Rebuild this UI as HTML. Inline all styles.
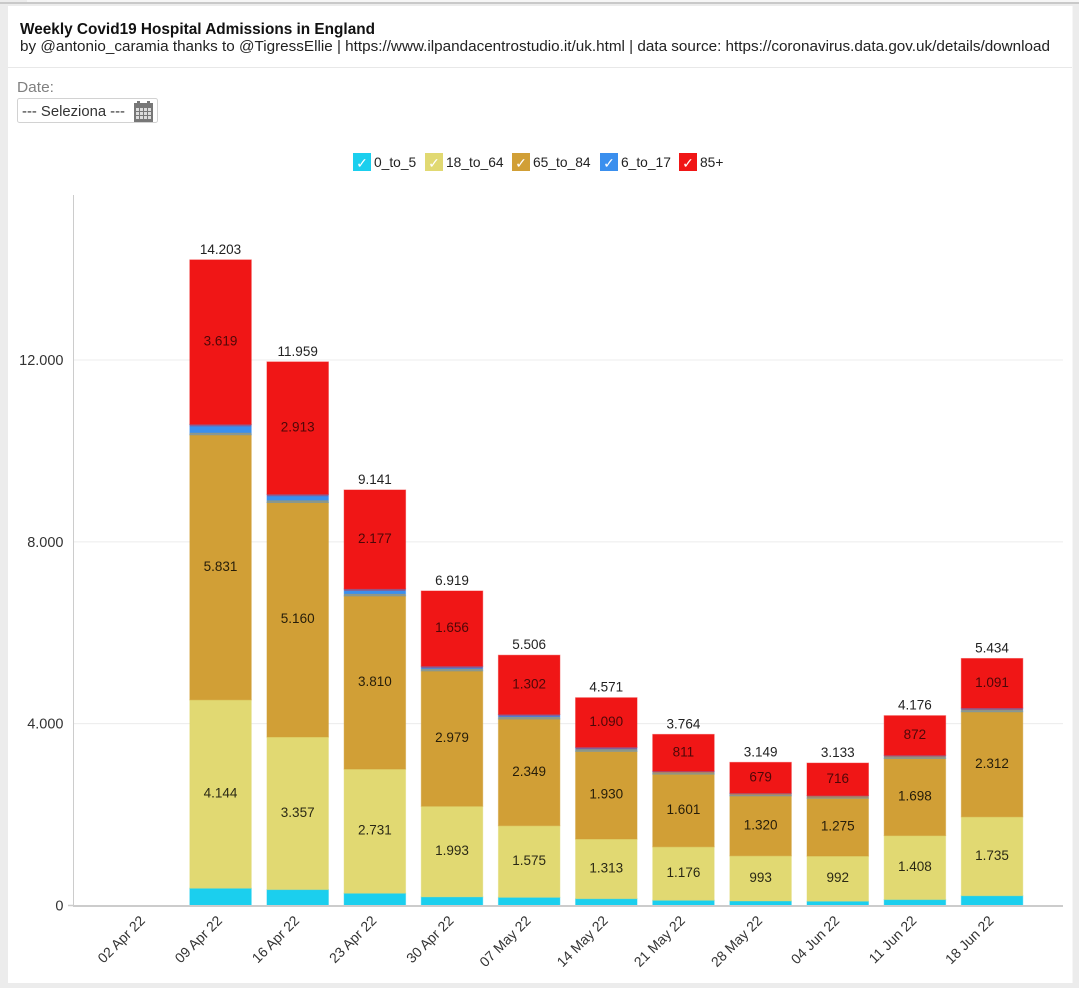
<!DOCTYPE html>
<html lang="it">
<head>
<meta charset="utf-8">
<title>Weekly Covid19 Hospital Admissions in England</title>
<style>
html,body{margin:0;padding:0;background:#fff;width:1079px;height:988px;overflow:hidden}
svg{display:block;font-family:"Liberation Sans",sans-serif}
text{fill:#222}
</style>
</head>
<body>
<svg id="chart" width="1079" height="988" viewBox="0 0 1079 988" xmlns="http://www.w3.org/2000/svg">
  <rect x="0" y="0" width="1079" height="988" fill="#ececec"/>
  <rect x="27" y="0" width="1052" height="2" fill="#f6f6f6"/>
  <rect x="0" y="2" width="1079" height="2" fill="#c9c9c9"/>
  <rect x="8" y="6" width="1064.5" height="977" fill="#ffffff"/>
  <g>
    <text x="20" y="34" font-size="16" font-weight="bold" fill="#111" textLength="355" lengthAdjust="spacingAndGlyphs" style="fill:#111">Weekly Covid19 Hospital Admissions in England</text>
    <text x="20" y="51" font-size="14.5" textLength="1030" lengthAdjust="spacingAndGlyphs" style="fill:#222">by @antonio_caramia thanks to @TigressEllie | https://www.ilpandacentrostudio.it/uk.html | data source: https://coronavirus.data.gov.uk/details/download</text>
    <line x1="8" y1="67.5" x2="1072" y2="67.5" stroke="#e8e8e8"/>
  </g>
  <g>
    <text x="17" y="92" font-size="14.5" textLength="37" lengthAdjust="spacingAndGlyphs" style="fill:#808080">Date:</text>
    <g>
      <rect x="17.5" y="98.5" width="140" height="24" rx="2" fill="#fff" stroke="#d2d2d2"/>
      <text x="22" y="116" font-size="14.5" textLength="103" lengthAdjust="spacingAndGlyphs" style="fill:#333">--- Seleziona ---</text>
      <g>
        <rect x="134" y="103" width="19" height="19" fill="#777"/>
        <rect x="137" y="101" width="3" height="5" fill="#777"/>
        <rect x="147" y="101" width="3" height="5" fill="#777"/>
        <path d="M136 108h3v3h-3zM140 108h3v3h-3zM144 108h3v3h-3zM148 108h3v3h-3zM136 112h3v3h-3zM140 112h3v3h-3zM144 112h3v3h-3zM148 112h3v3h-3zM136 116h3v3h-3zM140 116h3v3h-3zM144 116h3v3h-3zM148 116h3v3h-3z" fill="#dcdcdc"/>
      </g>
    </g>
  </g>
  <g id="legend"></g>
  <g id="grid"></g>
  <g id="bars"></g>
  <g id="axes"></g>
  <g id="labels"></g>
</svg>
<script>
const categories = ["02 Apr 22","09 Apr 22","16 Apr 22","23 Apr 22","30 Apr 22","07 May 22","14 May 22","21 May 22","28 May 22","04 Jun 22","11 Jun 22","18 Jun 22"];
const seriesNames = ["0_to_5","18_to_64","65_to_84","6_to_17","85+"];
const seriesColors = ["#1bcfee","#e1d972","#d19f36","#3a8fee","#f01616"];
const age0to5 = [0,380,350,270,190,180,150,115,100,95,130,215];
const age18to64 = [0,4144,3357,2731,1993,1575,1313,1176,993,992,1408,1735];
const age65to84 = [0,5831,5160,3810,2979,2349,1930,1601,1320,1275,1698,2312];
const age6to17 = [0,229,179,153,101,100,88,61,57,55,68,81];
const age85plus = [0,3619,2913,2177,1656,1302,1090,811,679,716,872,1091];
const totals = [0,14203,11959,9141,6919,5506,4571,3764,3149,3133,4176,5434];
const yTicks = [0,4000,8000,12000];

const seriesValues = [age0to5, age18to64, age65to84, age6to17, age85plus];
const seriesLabelled = [false, true, true, false, true];
const NS = "http://www.w3.org/2000/svg";

function yScale(v){ return 905.5 - v * (545.5 / 12000); }
function xCenter(i){ return 143.4 + i * 77.15; }
const barWidth = 61.5;

function fmt(v){ return String(v).replace(/\B(?=(\d{3})+(?!\d))/g, "."); }
function mk(parent, tag, attrs, text){
  const el = document.createElementNS(NS, tag);
  for (const k in attrs) el.setAttribute(k, attrs[k]);
  if (text !== undefined) el.textContent = text;
  parent.appendChild(el);
  return el;
}

const gridG = document.getElementById("grid");
const axesG = document.getElementById("axes");
const barsG = document.getElementById("bars");
const labelsG = document.getElementById("labels");
const legendG = document.getElementById("legend");

yTicks.forEach(function(t){
  const y = yScale(t);
  if (t !== 0) {
    const g = mk(gridG, "line", {x1:73, x2:1063, y1:y, y2:y, stroke:"#ececec"});
    
    
  }
  const l = mk(axesG, "text", {x:63.5, y:y+5, "text-anchor":"end", "font-size":14.5, style:"fill:#333"}, fmt(t));
  
  
});

const yAxis = mk(axesG, "line", {x1:73.5, x2:73.5, y1:195, y2:yScale(0), stroke:"#cccccc"});


const yTick0 = mk(axesG, "line", {x1:68, x2:73, y1:yScale(0), y2:yScale(0), stroke:"#cccccc", "stroke-width":1.5});



categories.forEach(function(c, i){
  let base = 0;
  const cx = xCenter(i);
  seriesValues.forEach(function(vals, s){
    const v = vals[i];
    if (v > 0) {
      const top = yScale(base + v), bot = yScale(base);
      const r = mk(barsG, "rect", {x:cx - barWidth/2, y:top, width:barWidth, height:bot - top, fill:seriesColors[s], stroke:seriesColors[s], "stroke-opacity":0.45, "stroke-width":1});
      
      
      if (s === 3) {
        const edgeTop = mk(barsG, "line", {x1:cx - barWidth/2, x2:cx + barWidth/2, y1:top + 1, y2:top + 1, stroke:seriesColors[4], "stroke-opacity":0.4, "stroke-width":2});
        
        
        const edgeBot = mk(barsG, "line", {x1:cx - barWidth/2, x2:cx + barWidth/2, y1:bot - 1, y2:bot - 1, stroke:seriesColors[2], "stroke-opacity":0.55, "stroke-width":2});
        
        
      }
      if (seriesLabelled[s]) {
        const t = mk(labelsG, "text", {x:cx, y:(top + bot)/2 + 3.5, "text-anchor":"middle", "font-size":13.5, style:"fill:#000;fill-opacity:" + (s === 4 ? 0.68 : 0.82)}, fmt(v));
        
        
      }
    }
    base += v;
  });
  if (totals[i] > 0) {
    const tt = mk(labelsG, "text", {x:cx, y:yScale(totals[i]) - 6, "text-anchor":"middle", "font-size":13.5, style:"fill:#222"}, fmt(totals[i]));
    
    
  }
  const ax = cx + 2.5, ay = 921.5;
  const xl = mk(axesG, "text", {x:ax, y:ay, "text-anchor":"end", "font-size":14, transform:"rotate(-45 " + ax + " " + ay + ")", style:"fill:#333"}, c);
  
  
});

const xAxis = mk(axesG, "line", {x1:73, x2:1063, y1:yScale(0) + 0.5, y2:yScale(0) + 0.5, stroke:"#cccccc", "stroke-width":2});



const legendBoxX = [353, 425, 512, 600, 679];
seriesNames.forEach(function(n, s){
  const g = mk(legendG, "g", {});
  
  
  const bx = legendBoxX[s];
  mk(g, "rect", {x:bx, y:153, width:18, height:18, fill:seriesColors[s]});
  mk(g, "text", {x:bx + 9, y:168, "text-anchor":"middle", "font-size":14, style:"fill:#fff"}, "\u2713");
  mk(g, "text", {x:bx + 21, y:167, "font-size":13.8, style:"fill:#222"}, n);
});
</script>
</body>
</html>
